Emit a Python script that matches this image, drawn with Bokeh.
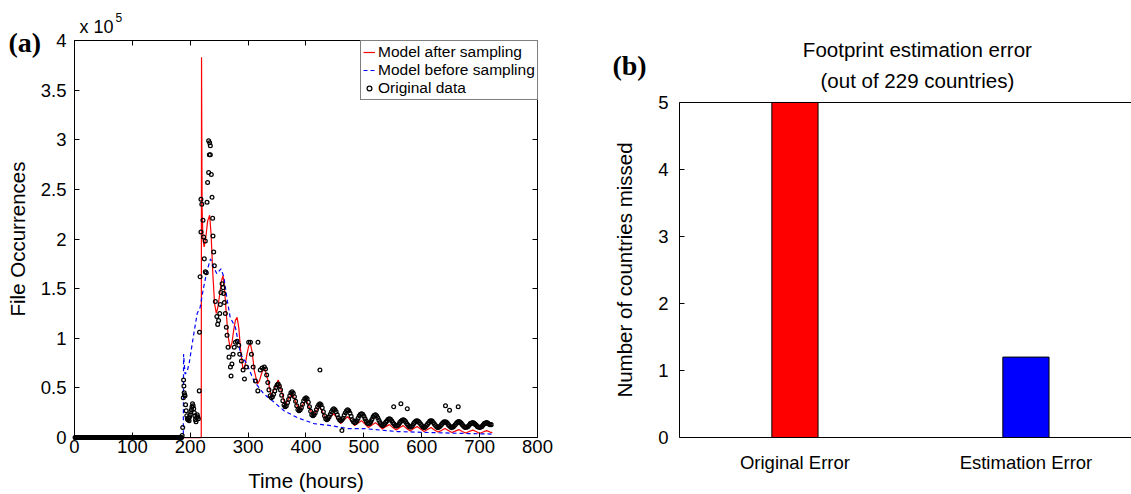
from bokeh.embed import file_html
from bokeh.layouts import row
from bokeh.models import CustomJSTickFormatter, FixedTicker, Label, LinearAxis, Range1d
from bokeh.plotting import figure
from bokeh.resources import INLINE

SANS = "Liberation Sans"
SERIF = "Liberation Serif"
TICK_SIZE = "18.5px"
LABEL_SIZE = "20.5px"

# ---------------- panel (a): file occurrences (units of 1e5) ----------------
x_ticks = [0, 100, 200, 300, 400, 500, 600, 700, 800]
y_ticks = [0, 0.5, 1, 1.5, 2, 2.5, 3, 3.5, 4]

# quiet period before the release: no occurrences
quiet_hours = list(range(1, 186))
quiet_occ = [0.0] * len(quiet_hours)

# initial burst
burst_hours = [186, 187, 188, 188.5, 189, 189.5, 190, 191, 192, 193, 194, 195, 196, 197, 198,
               199, 200, 201, 202, 203, 204, 205, 206, 207, 208, 209, 210, 211, 212, 213, 214,
               215.6, 216, 217, 218.5, 218.5, 220, 222, 223, 224.3, 226, 226, 227.7, 229, 230,
               231.8, 231.8, 233, 233.5, 234.7, 234.7, 236.4, 237.6, 238.7, 239.3, 240.5, 241.6,
               243.4, 246, 247.4, 249, 251, 252, 253, 255, 256.6, 257.8, 259, 260.7, 262.4, 263.6,
               265.3, 267, 269.4, 270.5, 272, 274, 276, 278, 281, 283.8, 285.5, 288.4, 291.3,
               293.6, 297, 301, 304, 305.8, 308.7, 312.7, 316.8, 321, 324]
burst_occ = [0.02, 0.10, 0.40, 0.58, 0.52, 0.45, 0.43, 0.42, 0.33, 0.27, 0.22, 0.19, 0.18, 0.20,
             0.17, 0.21, 0.23, 0.26, 0.28, 0.31, 0.34, 0.32, 0.29, 0.25, 0.22, 0.18, 0.16, 0.20,
             0.23, 0.21, 0.19, 0.47, 1.06, 1.62, 2.40, 2.07, 2.35, 2.19, 2.02, 1.80, 1.98, 1.67,
             1.66, 2.37, 2.57, 2.67, 2.99, 2.85, 2.97, 2.85, 2.94, 2.65, 2.42, 2.21, 2.03, 1.87,
             1.73, 1.37, 1.22, 1.14, 1.18, 1.25, 1.34, 1.46, 1.55, 1.51, 1.45, 1.36, 1.25, 1.11,
             1.03, 0.91, 0.81, 0.71, 0.62, 0.74, 0.84, 0.91, 0.96, 0.97, 0.93, 0.84, 0.77, 0.68,
             0.59, 0.71, 0.96, 0.96, 0.84, 0.71, 0.57, 0.47, 0.68, 0.70]

# slow daily-cycle decay, sampled every 2 hours (one row per day)
tail_hours = list(range(328, 721, 2))
tail_occ = [0.71, 0.69, 0.63, 0.555, 0.48, 0.42, 0.40, 0.41, 0.435, 0.47, 0.505, 0.53,
            0.54, 0.52, 0.48, 0.425, 0.37, 0.325, 0.31, 0.32, 0.35, 0.385, 0.42, 0.45,
            0.46, 0.445, 0.41, 0.365, 0.32, 0.28, 0.27, 0.28, 0.30, 0.335, 0.37, 0.39,
            0.40, 0.39, 0.355, 0.31, 0.265, 0.23, 0.22, 0.23, 0.25, 0.28, 0.31, 0.33,
            0.34, 0.33, 0.30, 0.26, 0.22, 0.19, 0.18, 0.19, 0.21, 0.235, 0.26, 0.28,
            0.29, 0.28, 0.26, 0.23, 0.20, 0.18, 0.17, 0.18, 0.195, 0.225, 0.25, 0.27,
            0.28, 0.27, 0.245, 0.215, 0.18, 0.16, 0.15, 0.155, 0.17, 0.195, 0.22, 0.235,
            0.24, 0.235, 0.215, 0.19, 0.165, 0.145, 0.14, 0.145, 0.16, 0.185, 0.21, 0.225,
            0.23, 0.22, 0.20, 0.175, 0.15, 0.13, 0.12, 0.125, 0.14, 0.155, 0.17, 0.185,
            0.19, 0.185, 0.17, 0.15, 0.135, 0.12, 0.115, 0.12, 0.13, 0.15, 0.165, 0.175,
            0.18, 0.175, 0.16, 0.14, 0.125, 0.11, 0.105, 0.11, 0.12, 0.14, 0.155, 0.165,
            0.17, 0.165, 0.15, 0.135, 0.12, 0.105, 0.10, 0.105, 0.12, 0.135, 0.15, 0.165,
            0.17, 0.165, 0.15, 0.135, 0.12, 0.105, 0.10, 0.105, 0.115, 0.13, 0.145, 0.155,
            0.16, 0.155, 0.145, 0.13, 0.115, 0.105, 0.10, 0.105, 0.115, 0.13, 0.145, 0.155,
            0.16, 0.155, 0.145, 0.13, 0.115, 0.105, 0.10, 0.105, 0.11, 0.125, 0.14, 0.145,
            0.15, 0.145, 0.135, 0.125, 0.11, 0.105, 0.10, 0.105, 0.11, 0.125, 0.14, 0.145,
            0.15, 0.145, 0.135, 0.13, 0.13]

# isolated readings
outlier_hours = [317, 424, 462, 551.5, 564, 575, 641, 648, 663]
outlier_occ = [0.96, 0.68, 0.07, 0.31, 0.34, 0.29, 0.32, 0.275, 0.31]

# model fitted after sampling
after_hours = [0, 219, 219.5, 220.5, 222, 224, 227, 230, 233.5, 236, 239, 242, 245, 248, 251,
               254, 256.6, 259, 262, 265.5, 269, 272, 275, 278, 281, 284, 287, 291, 294.5, 298,
               301, 304, 307, 310.5, 316, 319.5, 323.5, 328,
               334, 340, 346, 352, 358, 364, 370, 376, 382, 388, 394, 400, 406, 412, 418, 424,
               430, 436, 442, 448, 454, 460, 466, 472, 478, 484, 490, 496, 502, 508, 514, 520,
               526, 532, 538, 544, 550, 556, 562, 568, 574, 580, 586, 592, 598, 604, 610, 616,
               622, 628, 634, 640, 646, 652, 658, 664, 670, 676, 682, 688, 694, 700, 706, 712,
               718, 722]
after_occ = [0, 0, 3.83, 2.30, 2.00, 1.92, 2.02, 2.18, 2.24, 2.05, 1.65, 1.35, 1.25, 1.32, 1.45,
             1.58, 1.63, 1.52, 1.27, 1.02, 0.90, 0.95, 1.08, 1.18, 1.21, 1.10, 0.88, 0.69, 0.72,
             0.84, 0.92, 0.94, 0.86, 0.68, 0.54, 0.57, 0.65, 0.71,
             0.58, 0.42, 0.50, 0.58, 0.46, 0.33, 0.39, 0.45, 0.36, 0.27, 0.33, 0.38, 0.30, 0.22,
             0.27, 0.31, 0.24, 0.17, 0.21, 0.24, 0.19, 0.14, 0.18, 0.21, 0.165, 0.12, 0.145,
             0.17, 0.135, 0.10, 0.125, 0.15, 0.12, 0.085, 0.11, 0.13, 0.10, 0.075, 0.10, 0.12,
             0.09, 0.065, 0.09, 0.11, 0.085, 0.06, 0.08, 0.10, 0.075, 0.055, 0.07, 0.09, 0.07,
             0.05, 0.065, 0.08, 0.06, 0.045, 0.06, 0.075, 0.06, 0.04, 0.055, 0.07, 0.055, 0.05]

# model before sampling
before_hours = [0, 188, 188.5, 191, 194.5, 198.5, 203, 206, 212, 217, 223, 229, 235, 240, 246,
                253, 258, 264, 269, 278, 287, 298, 310, 327, 344, 362, 385, 414, 443, 472, 500,
                558, 616, 680, 722]
before_occ = [0, 0, 0.84, 0.64, 0.66, 0.76, 0.93, 1.04, 1.25, 1.31, 1.51, 1.68, 1.80, 1.72, 1.65,
              1.70, 1.62, 1.38, 1.21, 1.11, 0.84, 0.74, 0.57, 0.44, 0.36, 0.27, 0.20, 0.14, 0.12,
              0.09, 0.09, 0.06, 0.05, 0.04, 0.035]

# ---------------- panel (b): countries missed ----------------
categories = ["Original Error", "Estimation Error"]
missed = [5, 1.2]
bar_colors = ["#ff0000", "#0000ff"]
b_ticks = [0, 1, 2, 3, 4, 5]

blank = CustomJSTickFormatter(code="return ''")


def style_axis(ax, standoff, tick_in=5):
    ax.axis_line_color = "black"
    ax.axis_line_width = 1
    ax.major_tick_line_color = "black"
    ax.major_tick_line_width = 1
    ax.major_tick_in = tick_in
    ax.major_tick_out = 0
    ax.minor_tick_line_color = None
    ax.major_label_text_font = SANS
    ax.major_label_text_font_size = TICK_SIZE
    ax.major_label_text_color = "black"
    ax.major_label_standoff = standoff
    ax.axis_label_text_font = SANS
    ax.axis_label_text_font_size = LABEL_SIZE
    ax.axis_label_text_font_style = "normal"
    ax.axis_label_text_color = "black"


def canvas_figure(width, x_range, y_range):
    # the frame fills the whole canvas; axes are pinned inside it with fixed_location
    p = figure(width=width, height=494, frame_width=width, frame_height=494,
               x_range=x_range, y_range=y_range,
               min_border_left=0, min_border_right=0, min_border_top=0, min_border_bottom=0,
               output_backend="svg", toolbar_location=None)
    p.outline_line_color = None
    p.grid.visible = False
    return p


# ---- left figure: plot box 74..537 x 40..437 px ----
X0, X1 = 0, 800
Y0, Y1 = 0, 4
p1 = canvas_figure(560, Range1d(-127.86, 839.74), Range1d(-0.574, 4.403))

xb = p1.xaxis[0]
xb.ticker = FixedTicker(ticks=x_ticks)
xb.axis_label = "Time (hours)"
xb.fixed_location = Y0
xb.bounds = (X0, X1)
style_axis(xb, 2)
xb.axis_label_standoff = 13

yl = p1.yaxis[0]
yl.ticker = FixedTicker(ticks=y_ticks)
yl.formatter = CustomJSTickFormatter(code="return tick.toString();")
yl.axis_label = "File Occurrences"
yl.fixed_location = X0
yl.bounds = (Y0, Y1)
style_axis(yl, 8)
yl.axis_label_standoff = 9

top1 = LinearAxis(ticker=FixedTicker(ticks=x_ticks), formatter=blank,
                  fixed_location=Y1, bounds=(X0, X1))
right1 = LinearAxis(ticker=FixedTicker(ticks=y_ticks), formatter=blank,
                    fixed_location=X1, bounds=(Y0, Y1))
style_axis(top1, 0)
style_axis(right1, 0)
p1.add_layout(top1, "above")
p1.add_layout(right1, "right")

p1.line(after_hours, after_occ, line_color="#ff0000", line_width=1.2,
        legend_label="Model after sampling")
p1.line(before_hours, before_occ, line_color="#0000ff", line_width=1.2, line_dash="4 3",
        legend_label="Model before sampling")
occ_hours = quiet_hours + burst_hours + tail_hours + outlier_hours
occ_vals = quiet_occ + burst_occ + tail_occ + outlier_occ
p1.scatter(occ_hours, occ_vals, marker="circle", size=3.8, fill_color=None,
           line_color="black", line_width=1.25, legend_label="Original data")

leg = p1.legend[0]
leg.location = (360, 394)
leg.margin = 0
leg.padding = 2
leg.spacing = 0
leg.glyph_width = 12
leg.glyph_height = 18
leg.label_height = 18
leg.label_standoff = 3
leg.label_text_font = SANS
leg.label_text_font_size = "15.5px"
leg.label_text_color = "black"
leg.border_line_color = "black"
leg.border_line_width = 1
leg.background_fill_color = "white"
leg.background_fill_alpha = 1

p1.add_layout(Label(x=-114, y=3.98, text="(a)", text_font=SERIF, text_font_style="bold",
                    text_font_size="28px", text_baseline="middle", text_align="left",
                    text_color="black"))
p1.add_layout(Label(x=8.6, y=4.141, text="x 10", text_font=SANS, text_font_size="18px",
                    text_baseline="middle", text_align="left", text_color="black"))
p1.add_layout(Label(x=70.8, y=4.227, text="5", text_font=SANS, text_font_size="12px",
                    text_baseline="middle", text_align="left", text_color="black"))

# ---- right figure: plot box starts at 678 px, 0..5 spans 437..102 px ----
B_LEFT, B_RIGHT = 0.5, 2.457
p2 = canvas_figure(571, Range1d(-0.015, B_RIGHT), Range1d(-0.851, 6.522))

xb2 = p2.xaxis[0]
xb2.ticker = FixedTicker(ticks=[1, 2])
xb2.major_label_overrides = {1: categories[0], 2: categories[1]}
xb2.fixed_location = 0
xb2.bounds = (B_LEFT, B_RIGHT)
style_axis(xb2, 15, tick_in=0)

yl2 = p2.yaxis[0]
yl2.ticker = FixedTicker(ticks=b_ticks)
yl2.axis_label = "Number of countries missed"
yl2.fixed_location = B_LEFT
yl2.bounds = (0, 5)
style_axis(yl2, 11)
yl2.axis_label_standoff = 19

top2 = LinearAxis(ticker=FixedTicker(ticks=[]), formatter=blank,
                  fixed_location=5, bounds=(B_LEFT, B_RIGHT))
style_axis(top2, 0, tick_in=0)
p2.add_layout(top2, "above")

p2.vbar(x=[1, 2], top=missed, width=0.2, fill_color=bar_colors,
        line_color="black", line_width=1)

p2.add_layout(Label(x=0.21, y=5.545, text="(b)", text_font=SERIF, text_font_style="bold",
                    text_font_size="28px", text_baseline="middle", text_align="left",
                    text_color="black"))
p2.add_layout(Label(x=1.53, y=5.784, text="Footprint estimation error", text_font=SANS,
                    text_font_size=LABEL_SIZE, text_baseline="middle", text_align="center",
                    text_color="black"))
p2.add_layout(Label(x=1.53, y=5.328, text="(out of 229 countries)", text_font=SANS,
                    text_font_size=LABEL_SIZE, text_baseline="middle", text_align="center",
                    text_color="black"))

layout = row(p1, p2)
open("out.html", "w").write(file_html(layout, INLINE))
